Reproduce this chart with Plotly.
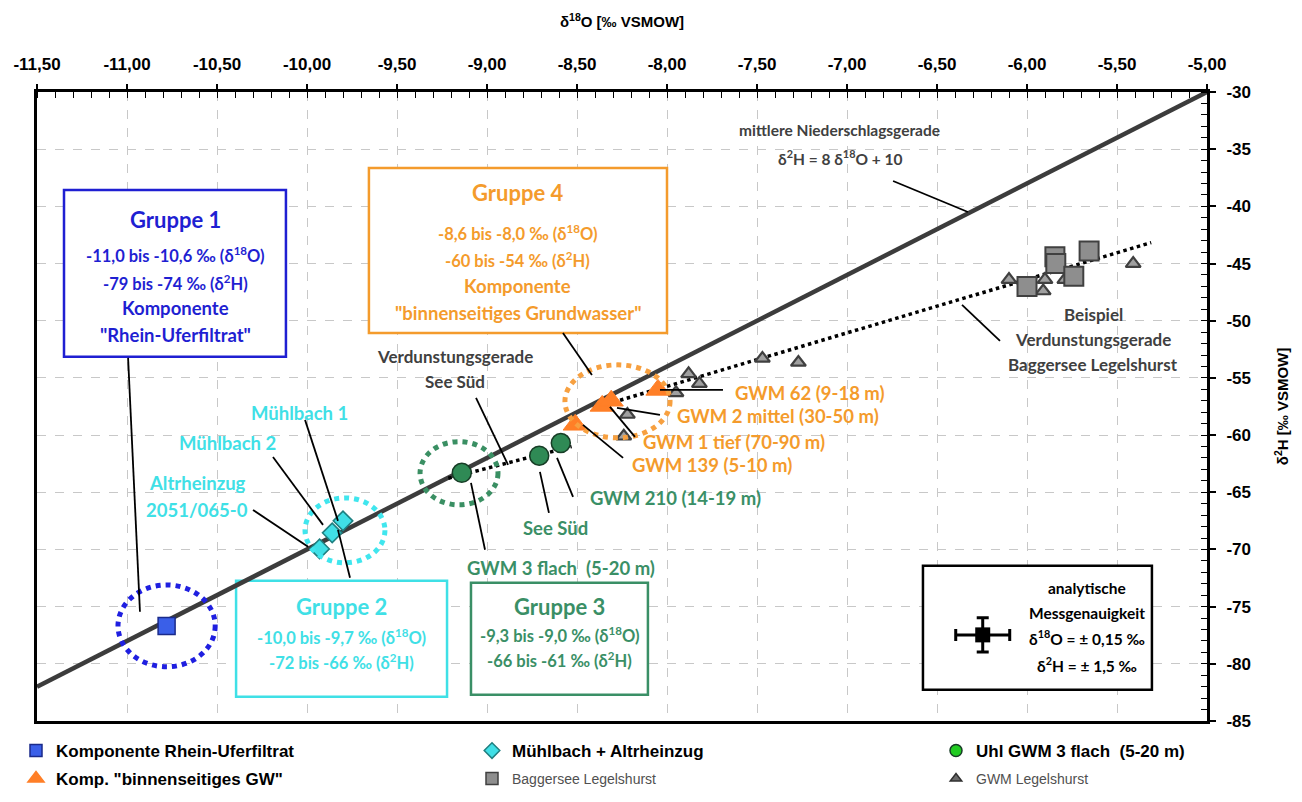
import plotly.graph_objects as go

# ---------------- data ----------------
X_TICK_VALUES = [-11.5, -11.0, -10.5, -10.0, -9.5, -9.0, -8.5, -8.0, -7.5, -7.0, -6.5, -6.0, -5.5, -5.0]
X_TICK_LABELS = ["-11,50", "-11,00", "-10,50", "-10,00", "-9,50", "-9,00", "-8,50", "-8,00",
                 "-7,50", "-7,00", "-6,50", "-6,00", "-5,50", "-5,00"]
Y_TICK_VALUES = [-30, -35, -40, -45, -50, -55, -60, -65, -70, -75, -80, -85]
Y_TICK_LABELS = ["-30", "-35", "-40", "-45", "-50", "-55", "-60", "-65", "-70", "-75", "-80", "-85"]

# Komponente Rhein-Uferfiltrat (Gruppe 1)
RHEIN_X = [-10.78]
RHEIN_Y = [-76.7]

# Mühlbach + Altrheinzug (Gruppe 2)
MUEHL_NAMES = ["Altrheinzug 2051/065-0", "Mühlbach 2", "Mühlbach 1"]
MUEHL_X = [-9.93, -9.86, -9.80]
MUEHL_Y = [-69.95, -68.55, -67.5]

# Uhl GWM 3 flach / See Süd / GWM 210 (Gruppe 3)
UHL_NAMES = ["GWM 3 flach (5-20 m)", "See Süd", "GWM 210 (14-19 m)"]
UHL_X = [-9.14, -8.71, -8.59]
UHL_Y = [-63.3, -61.8, -60.7]

# Komponente "binnenseitiges GW" (Gruppe 4)
BINNEN_NAMES = ["GWM 139 (5-10 m)", "GWM 1 tief (70-90 m)", "GWM 2 mittel (30-50 m)", "GWM 62 (9-18 m)"]
BINNEN_X = [-8.51, -8.36, -8.31, -8.05]
BINNEN_Y = [-59.1, -57.45, -57.0, -56.05]

# Baggersee Legelshurst
BAGGER_X = [-6.00, -5.845, -5.84, -5.74, -5.655]
BAGGER_Y = [-47.0, -44.4, -45.0, -46.1, -43.9]

# GWM Legelshurst
GWMLEG_X = [-8.24, -8.22, -7.95, -7.88, -7.82, -7.47, -7.27, -6.10, -5.91, -5.90, -5.79, -5.41]
GWMLEG_Y = [-60.1, -58.2, -56.3, -54.65, -55.5, -53.3, -53.65, -46.4, -47.4, -46.4, -46.4, -45.0]

# mittlere Niederschlagsgerade  d2H = 8 d18O + 10
MWL_SLOPE = 8
MWL_INTERCEPT = 10
MWL_X = [-11.5, -5.0]

# Verdunstungsgeraden
EVAP_BAGGER_X = [-8.41, -5.31]
EVAP_BAGGER_Y = [-57.65, -43.17]
EVAP_SEE_X = [-9.215, -8.53]
EVAP_SEE_Y = [-63.77, -61.0]

# analytische Messgenauigkeit (example point with error bars)
PREC_X = [-6.246]
PREC_Y = [-77.47]
PREC_ERR_O = 0.15
PREC_ERR_H = 1.5

# ---------------- styles ----------------
SANS = "Liberation Sans, Arial, sans-serif"
CAL = "Lato, Carlito, Calibri, Open Sans, sans-serif"
BLUE = "#1f1fd2"
CYAN = "#3fe0e6"
GREEN = "#3a8f66"
ORANGE = "#f49b2c"
DARK = "#404040"

fig = go.Figure()

# MWL
fig.add_trace(go.Scatter(x=MWL_X, y=[MWL_SLOPE * v + MWL_INTERCEPT for v in MWL_X], mode="lines",
                         line=dict(color="#3c3c3c", width=4.5), showlegend=False, hoverinfo="skip"))
# evaporation lines
fig.add_trace(go.Scatter(x=EVAP_BAGGER_X, y=EVAP_BAGGER_Y, mode="lines",
                         line=dict(color="black", width=3.5, dash="dot"), showlegend=False))
fig.add_trace(go.Scatter(x=EVAP_SEE_X, y=EVAP_SEE_Y, mode="lines",
                         line=dict(color="black", width=3.5, dash="dot"), showlegend=False))

# data points
fig.add_trace(go.Scatter(x=GWMLEG_X, y=GWMLEG_Y, mode="markers", name="GWM Legelshurst", showlegend=False,
                         marker=dict(symbol="triangle-up", size=13, color="#a0a0a0",
                                     line=dict(color="#404040", width=2.2))))
fig.add_trace(go.Scatter(x=BAGGER_X, y=BAGGER_Y, mode="markers", name="Baggersee Legelshurst", showlegend=False,
                         marker=dict(symbol="square", size=19, color="#8e8e8e",
                                     line=dict(color="#404040", width=2))))
fig.add_trace(go.Scatter(x=RHEIN_X, y=RHEIN_Y, mode="markers", name="Komponente Rhein-Uferfiltrat",
                         showlegend=False,
                         marker=dict(symbol="square", size=17, color="#3a5fe8",
                                     line=dict(color="#1a2a8a", width=1.5))))
fig.add_trace(go.Scatter(x=MUEHL_X, y=MUEHL_Y, mode="markers", name="Mühlbach + Altrheinzug",
                         text=MUEHL_NAMES, showlegend=False,
                         marker=dict(symbol="diamond", size=15, color="#40dfe6",
                                     line=dict(color="#1f7f80", width=1.5))))
fig.add_trace(go.Scatter(x=UHL_X, y=UHL_Y, mode="markers", name="Uhl GWM 3 flach  (5-20 m)",
                         text=UHL_NAMES, showlegend=False,
                         marker=dict(symbol="circle", size=19, color="#2f8a55",
                                     line=dict(color="#173d26", width=1.5))))
fig.add_trace(go.Scatter(x=BINNEN_X, y=BINNEN_Y, mode="markers", name='Komp. "binnenseitiges GW"',
                         text=BINNEN_NAMES, showlegend=False,
                         marker=dict(symbol="triangle-up", size=21, color="#ff7f27",
                                     line=dict(color="#ff7f27", width=1))))
# precision example
fig.add_trace(go.Scatter(x=PREC_X, y=PREC_Y, mode="markers", showlegend=False,
                         marker=dict(symbol="square", size=15, color="black"),
                         error_x=dict(type="constant", value=PREC_ERR_O, color="black", thickness=3, width=6),
                         error_y=dict(type="constant", value=PREC_ERR_H, color="black", thickness=3, width=6)))

# legend-only traces (six single-item legends laid out like the reference)
LEG = [
    ("<b>Komponente Rhein-Uferfiltrat</b>", "square", 12, "#3a5fe8", "#1a2a8a", "legend"),
    ("<b>Mühlbach + Altrheinzug</b>", "diamond", 12, "#40dfe6", "#1f7f80", "legend2"),
    ("<b>Uhl GWM 3 flach  (5-20 m)</b>", "circle", 12, "#22cc22", "#173d26", "legend3"),
    ('<b>Komp. "binnenseitiges GW"</b>', "triangle-up", 14, "#ff7f27", "#ff7f27", "legend4"),
    ("Baggersee Legelshurst", "square", 12, "#8e8e8e", "#404040", "legend5"),
    ("GWM Legelshurst", "triangle-up", 10, "#6a6a6a", "#303030", "legend6"),
]
for name, sym, sz, col, lcol, lg in LEG:
    fig.add_trace(go.Scatter(x=[None], y=[None], mode="markers", name=name, legend=lg,
                             marker=dict(symbol=sym, size=sz, color=col, line=dict(color=lcol, width=1.5))))

# ---------------- shapes ----------------
shapes = []
# group ellipses (x0, x1, y0, y1, colour)
ELLIPSES = [
    (-11.05, -10.51, -80.26, -73.1, "#1f1fe0"),
    (-10.011, -9.567, -71.17, -65.49, "#40e6ee"),
    (-9.372, -8.939, -66.10, -60.57, "#3a8f63"),
    (-8.567, -7.983, -60.24, -53.86, "#f7a040"),
]
for x0, x1, y0, y1, c in ELLIPSES:
    shapes.append(dict(type="circle", xref="x", yref="y", x0=x0, x1=x1, y0=y0, y1=y1,
                       line=dict(color=c, width=5, dash="dot"), layer="above"))

# text boxes (x0, x1, y0, y1, border colour)
BOXES = [
    (-11.35, -10.117, -53.16, -38.57, BLUE),
    (-10.394, -9.222, -82.88, -72.74, CYAN),
    (-9.089, -8.106, -82.71, -72.92, GREEN),
    (-9.656, -8.0, -51.07, -36.64, ORANGE),
    (-6.578, -5.306, -82.27, -71.43, "black"),
]
for x0, x1, y0, y1, c in BOXES:
    shapes.append(dict(type="rect", xref="x", yref="y", x0=x0, x1=x1, y0=y0, y1=y1,
                       line=dict(color=c, width=2.5), fillcolor="white", layer="between"))

# leader lines
LEADERS = [
    (-6.744, -37.78, -6.328, -40.49),   # MWL label
    (-6.361, -48.62, -6.15, -51.77),    # Baggersee evaporation line
    (-9.061, -56.75, -8.883, -62.60),   # See Süd evaporation line
    (-10.011, -58.67, -9.828, -67.50),  # Mühlbach 1
    (-10.189, -61.91, -9.911, -67.85),  # Mühlbach 2
    (-10.30, -66.54, -9.994, -69.77),   # Altrheinzug
    (-8.656, -66.80, -8.706, -63.22),   # See Süd
    (-8.522, -65.40, -8.611, -61.99),   # GWM 210
    (-9.011, -70.03, -9.089, -64.18),   # GWM 3 flach
    (-7.689, -56.05, -8.039, -56.05),   # GWM 62
    (-8.039, -58.23, -8.278, -57.62),   # GWM 2 mittel
    (-8.178, -60.16, -8.317, -57.53),   # GWM 1 tief
    (-8.244, -61.99, -8.467, -59.11),   # GWM 139
    (-10.994, -53.25, -10.928, -75.45), # Gruppe 1
    (-9.761, -72.48, -9.828, -68.29),   # Gruppe 2
    (-8.578, -51.07, -8.417, -54.74),   # Gruppe 4
]
for x0, y0, x1, y1 in LEADERS:
    shapes.append(dict(type="line", xref="x", yref="y", x0=x0, y0=y0, x1=x1, y1=y1,
                       line=dict(color="black", width=1.8), layer="above"))

# ---------------- annotations ----------------
ann = []
def T(text, x, y, size, color, xanchor="center"):
    ann.append(dict(text=f"<b>{text}</b>", x=x, y=y, xref="x", yref="y", showarrow=False,
                    xanchor=xanchor, yanchor="middle",
                    font=dict(family=CAL, size=size, color=color)))

d18 = "δ<sup>18</sup>O"
d2 = "δ<sup>2</sup>H"
TS, RS, KS, LS = 22, 16.5, 18.5, 18.5   # title / range / Komponente / label sizes
# Gruppe 1
T("Gruppe 1", -10.728, -41.19, TS, BLUE)
T(f"-11,0 bis -10,6 ‰ ({d18})", -10.728, -44.25, RS, BLUE)
T(f"-79 bis -74 ‰ ({d2})", -10.728, -46.70, RS, BLUE)
T("Komponente", -10.728, -48.88, KS, BLUE)
T('"Rhein-Uferfiltrat"', -10.728, -51.24, KS, BLUE)
# Gruppe 2
T("Gruppe 2", -9.808, -75.02, TS, CYAN)
T(f"-10,0 bis -9,7 ‰ ({d18})", -9.808, -77.64, RS, CYAN)
T(f"-72 bis -66 ‰ ({d2})", -9.808, -79.83, RS, CYAN)
# Gruppe 3
T("Gruppe 3", -8.597, -75.02, TS, GREEN)
T(f"-9,3 bis -9,0 ‰ ({d18})", -8.597, -77.47, RS, GREEN)
T(f"-66 bis -61 ‰ ({d2})", -8.597, -79.65, RS, GREEN)
# Gruppe 4
T("Gruppe 4", -8.828, -38.83, TS, ORANGE)
T(f"-8,6 bis -8,0 ‰ ({d18})", -8.828, -42.33, RS, ORANGE)
T(f"-60 bis -54 ‰ ({d2})", -8.828, -44.69, RS, ORANGE)
T("Komponente", -8.828, -46.96, KS, ORANGE)
T('"binnenseitiges Grundwasser"', -8.828, -49.32, KS, ORANGE)
# precision box
T("analytische", -5.667, -73.36, 15.5, "black")
T("Messgenauigkeit", -5.667, -75.54, 15.5, "black")
T(f"{d18} = ± 0,15 ‰", -5.667, -77.73, 15.5, "black")
T(f"{d2} = ± 1,5 ‰", -5.667, -80.09, 15.5, "black")
# line labels
T("mittlere Niederschlagsgerade", -7.039, -33.32, 15.5, DARK)
T(f"{d2} = 8 {d18} + 10", -7.039, -35.77, 15.5, DARK)
T("Beispiel", -5.633, -49.49, 17, DARK)
T("Verdunstungsgerade", -5.633, -51.68, 17, DARK)
T("Baggersee Legelshurst", -5.633, -53.86, 17, DARK)
T("Verdunstungsgerade", -9.178, -53.16, 17, DARK)
T("See Süd", -9.178, -55.35, 17, DARK)
# point labels
T("Mühlbach 1", -10.039, -58.06, LS, CYAN)
T("Mühlbach 2", -10.444, -60.68, LS, CYAN)
T("Altrheinzug", -10.611, -64.18, LS, CYAN)
T("2051/065-0", -10.611, -66.54, LS, CYAN)
T("See Süd", -8.622, -68.11, LS, GREEN)
T("GWM 210 (14-19 m)", -8.439, -65.49, LS, GREEN, "left")
T("GWM 3 flach  (5-20 m)", -9.122, -71.61, LS, GREEN, "left")
T("GWM 62 (9-18 m)", -7.633, -56.31, LS, ORANGE, "left")
T("GWM 2 mittel (30-50 m)", -7.956, -58.32, LS, ORANGE, "left")
T("GWM 1 tief (70-90 m)", -8.144, -60.59, LS, ORANGE, "left")
T("GWM 139 (5-10 m)", -8.206, -62.60, LS, ORANGE, "left")

# ---------------- layout ----------------
# the page body adds an 8 px offset; the figure is sized so the plot area lands where the reference has it
OFF = 8
W, H = 1286, 786
ML, MT = 37 - OFF, 92 - OFF
PW, PH = 1170, 629
MR, MB = W - ML - PW, H - MT - PH

def lx(px_page):
    return (px_page - OFF - ML) / PW

def ly(py_page):
    return (H - MB - (py_page - OFF)) / PH

legend_common = dict(orientation="h", xanchor="left", yanchor="middle", bgcolor="rgba(0,0,0,0)",
                     borderwidth=0, itemwidth=30, tracegroupgap=0)
bold_font = dict(family=SANS, size=17, color="black")
thin_font = dict(family=SANS, size=14, color="#505050")

fig.update_layout(
    width=W, height=H,
    margin=dict(l=ML, r=MR, t=MT, b=MB, autoexpand=False),
    paper_bgcolor="white", plot_bgcolor="white",
    showlegend=True,
    legend=dict(x=lx(16), y=ly(751), font=bold_font, **legend_common),
    legend2=dict(x=lx(472), y=ly(751), font=bold_font, **legend_common),
    legend3=dict(x=lx(936), y=ly(751), font=bold_font, **legend_common),
    legend4=dict(x=lx(16), y=ly(779), font=bold_font, **legend_common),
    legend5=dict(x=lx(472), y=ly(779), font=thin_font, **legend_common),
    legend6=dict(x=lx(936), y=ly(779), font=thin_font, **legend_common),
    xaxis=dict(
        side="top", range=[-11.5, -5.0], tickvals=X_TICK_VALUES, ticktext=X_TICK_LABELS,
        tickfont=dict(family=SANS, size=17, color="black", weight="bold"),
        ticklabelstandoff=7,
        title=dict(text="<b>δ<sup>18</sup>O [‰ VSMOW]</b>", standoff=24,
                   font=dict(family=SANS, size=15, color="black")),
        showline=True, linecolor="black", linewidth=3, mirror=True,
        ticks="outside", ticklen=5, tickwidth=1.5, tickcolor="black",
        minor=dict(dtick=0.1, ticks="inside", ticklen=6, tickwidth=1, tickcolor="black", showgrid=False),
        showgrid=True, gridcolor="#c8c8c8", griddash="dash", gridwidth=1,
        zeroline=False, fixedrange=True,
    ),
    yaxis=dict(
        side="right", range=[-85, -30], tickvals=Y_TICK_VALUES, ticktext=Y_TICK_LABELS,
        tickfont=dict(family=SANS, size=17, color="black", weight="bold"),
        ticklabelstandoff=7,
        title=dict(text="<b>δ<sup>2</sup>H [‰ VSMOW]</b>", standoff=28,
                   font=dict(family=SANS, size=15, color="black")),
        showline=True, linecolor="black", linewidth=3, mirror=True,
        ticks="outside", ticklen=6, tickwidth=1.5, tickcolor="black",
        minor=dict(dtick=1, ticks="inside", ticklen=6, tickwidth=1, tickcolor="black", showgrid=False),
        showgrid=True, gridcolor="#c8c8c8", griddash="dash", gridwidth=1,
        zeroline=False, fixedrange=True,
    ),
    shapes=shapes,
    annotations=ann,
)

fig.write_html("out.html")
